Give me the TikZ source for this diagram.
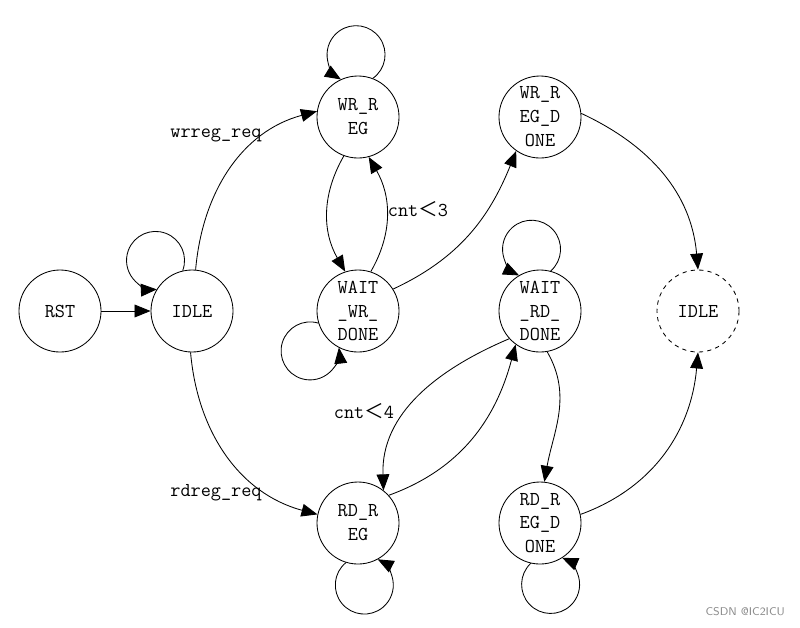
\documentclass[tikz,border=0pt]{standalone}
\usepackage{fontspec}
\newfontfamily\cjkfont{Noto Sans CJK SC}
\usetikzlibrary{arrows.meta,positioning}
\tikzset{
  state/.style   = {shape=circle, draw, minimum size=2.05cm, inner sep=0pt,
                    align=center, font=\ttfamily\fontsize{14}{17}\selectfont},
  ghost/.style   = {state, dashed},
  cond/.style    = {font=\ttfamily\fontsize{14}{17}\selectfont},
  selfarc/.style = {radius=0.725cm, delta angle=293.2}
}
\newcommand{\lt}{{\cjkfont ＜}}

\begin{document}
\begin{tikzpicture}[x=0.025cm,y=-0.025cm,->,>={Triangle[length=4mm,width=3.2mm]},
   line width=0.6pt]
\useasboundingbox (0,0) rectangle (800,627);
% states
\node [state] (rst)     at (60,311)  {RST};
\node [state] (idle)    at (192,311) {IDLE};
\node [state] (wrreg)   at (358,117) {WR\_R\\EG};
\node [state] (wrdone)  at (540,117) {WR\_R\\EG\_D\\ONE};
\node [state] (waitwr)  at (358,311) {WAIT\\\_WR\_\\DONE};
\node [state] (waitrd)  at (540,311) {WAIT\\\_RD\_\\DONE};
\node [ghost] (idleend) at (698,311) {IDLE};
\node [state] (rdreg)   at (358,523) {RD\_R\\EG};
\node [state] (rddone)  at (540,523) {RD\_R\\EG\_D\\ONE};
% labels
\node [cond] (wrreq) at (216,135) {wrreg\_req};
\node [cond] (rdreq) at (216,493) {rdreg\_req};
\node [cond] (lt3)   at (418,209) {cnt\lt3};
\node [cond] (lt4)   at (364,411) {cnt\lt4};
% transitions
\draw (rst) -- (idle);
\draw (idle.85) to[out=85,in=195] (wrreg.172);
\draw (idle.268) to[out=-85,in=165] (rdreg.168);
\draw (wrreg.250) to[out=240,in=120] (waitwr.108);
\draw (waitwr.72) to[out=60,in=-60] (wrreg.-75);
\draw (waitwr.32) to[out=25,in=-112] (wrdone.235);
\draw (wrdone.5) to[out=-25,in=95] (idleend.north);
\draw (waitrd.-80) to[out=-60,in=80] (rddone.84);
\draw (rddone.12) to[out=20,in=-95] (idleend.south);
\draw (waitrd.222) to[out=203,in=92] (rdreg.52);
\draw (rdreg.42) to[out=20,in=-105] (waitrd.234);
% self loops
\draw (idle.103)   arc[start angle=-20.6, selfarc];
\draw (wrreg.69)   arc[start angle=-54.6, selfarc];
\draw (waitwr.197) arc[start angle=73.4,  selfarc];
\draw (waitrd.75)  arc[start angle=-48.6, selfarc];
\draw (rdreg.253)  arc[start angle=129.4, selfarc];
\draw (rddone.257) arc[start angle=133.4, selfarc];
% mark
\node [font=\sffamily\fontsize{8}{9}\selectfont, text=black!45, anchor=east] (mark) at (790,612) {CSDN @IC2ICU};
\end{tikzpicture}
\end{document}
